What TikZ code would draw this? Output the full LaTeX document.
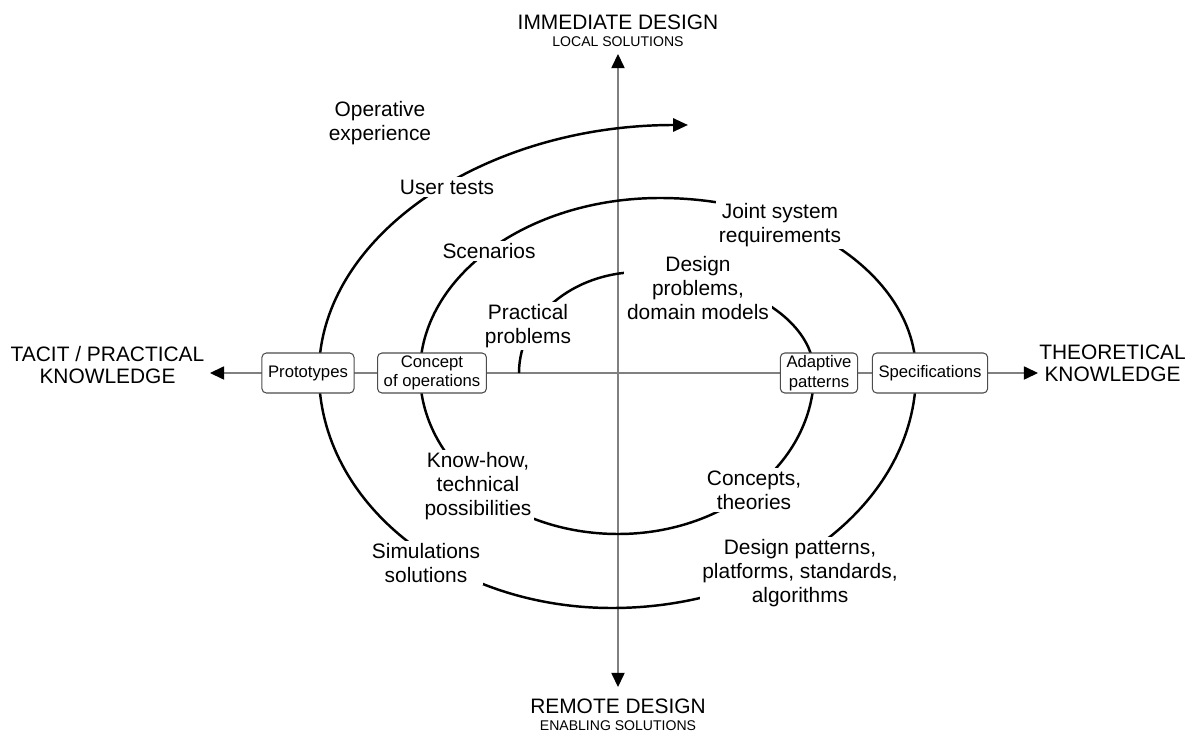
\documentclass[tikz,border=0pt]{standalone}
\usepackage{fontspec}
\setmainfont{Liberation Sans}
\usetikzlibrary{arrows.meta}

\tikzset{
    lbl/.style={fill=white, align=center, inner sep=1.5pt, font=\fontsize{11.9}{13.7}\selectfont},
    axislbl/.style={align=center, font=\fontsize{11.9}{12.6}\selectfont},
    sublbl/.style={font=\fontsize{8}{9.6}\selectfont},
    box/.style={draw=black!70, line width=0.6pt, rounded corners=2.5pt, fill=white, align=center,
                minimum height=0.8cm, inner xsep=3.5pt, inner ysep=1pt, font=\fontsize{9.5}{11.2}\selectfont},
    axisline/.style={draw=black!50, line width=0.7pt,
                {Triangle[length=8pt,width=7.5pt,color=black]}-{Triangle[length=8pt,width=7.5pt,color=black]}},
    spiral/.style={line width=1.4pt, -{Triangle[length=8.5pt,width=7.5pt]}}
}

\begin{document}
\begin{tikzpicture}
        \useasboundingbox (-12.36,-7.20) rectangle (11.54,7.46);

        \coordinate (uptip)    at (0,6.38);
        \coordinate (downtip)  at (0,-6.28);
        \coordinate (lefttip)  at (-8.16,0);
        \coordinate (righttip) at (8.40,0);
        \coordinate (start)    at (-1.98,0);

        \draw[axisline] (downtip) -- (uptip);
        \draw[axisline] (lefttip) -- (righttip);

        \node[axislbl] (immed)    at (0,7.02)      {IMMEDIATE DESIGN};
        \node[sublbl]  (local)    at (0,6.63)      {LOCAL SOLUTIONS};
        \node[axislbl] (remote)   at (0,-6.66)     {REMOTE DESIGN};
        \node[sublbl]  (enabling) at (0,-7.06)     {ENABLING SOLUTIONS};
        \node[axislbl] (tacit)    at (-10.21,0.16) {TACIT / PRACTICAL\\KNOWLEDGE};
        \node[axislbl] (theo)     at (9.89,0.19)   {THEORETICAL\\KNOWLEDGE};

        \draw[spiral] (start)
            arc[start angle=180, end angle=90,   x radius=2.42, y radius=2.02]
            arc[start angle=90,  end angle=0,    x radius=3.48, y radius=2.02]
            arc[start angle=0,   end angle=-90,  x radius=3.92, y radius=3.22]
            arc[start angle=-90, end angle=-180, x radius=3.96, y radius=3.22]
            arc[start angle=180, end angle=90,   x radius=4.80, y radius=3.50]
            arc[start angle=90,  end angle=0,    x radius=5.12, y radius=3.50]
            arc[start angle=0,   end angle=-90,  x radius=6.08, y radius=4.70]
            arc[start angle=-90, end angle=-180, x radius=5.86, y radius=4.70]
            arc[start angle=180, end angle=90,   x radius=7.38, y radius=4.96];

        \node[lbl] (operative) at (-4.76,4.99)  {Operative\\experience};
        \node[lbl] (usertests) at (-3.42,3.72)  {User tests};
        \node[lbl] (scenarios) at (-2.58,2.44)  {Scenarios};
        \node[lbl] (practical) at (-1.80,0.94)  {Practical\\problems};
        \node[lbl] (designpr)  at (1.60,1.70)   {Design\\problems,\\domain models};
        \node[lbl] (joint)     at (3.24,2.96)   {Joint system\\requirements};
        \node[lbl] (concepts)  at (2.72,-2.34)  {Concepts,\\theories};
        \node[lbl] (patterns)  at (3.64,-4.00)  {Design patterns,\\platforms, standards,\\algorithms};
        \node[lbl] (knowhow)   at (-2.80,-2.26) {Know-how,\\technical\\possibilities};
        \node[lbl] (simul)     at (-3.84,-3.80) {Simulations\\solutions};

        \node[box] (proto)  at (-6.20,0) {Prototypes};
        \node[box] (conops) at (-3.72,0) {Concept\\of operations};
        \node[box] (adapt)  at (4.02,0)  {Adaptive\\patterns};
        \node[box] (spec)   at (6.24,0)  {Specifications};
    \end{tikzpicture}
\end{document}
